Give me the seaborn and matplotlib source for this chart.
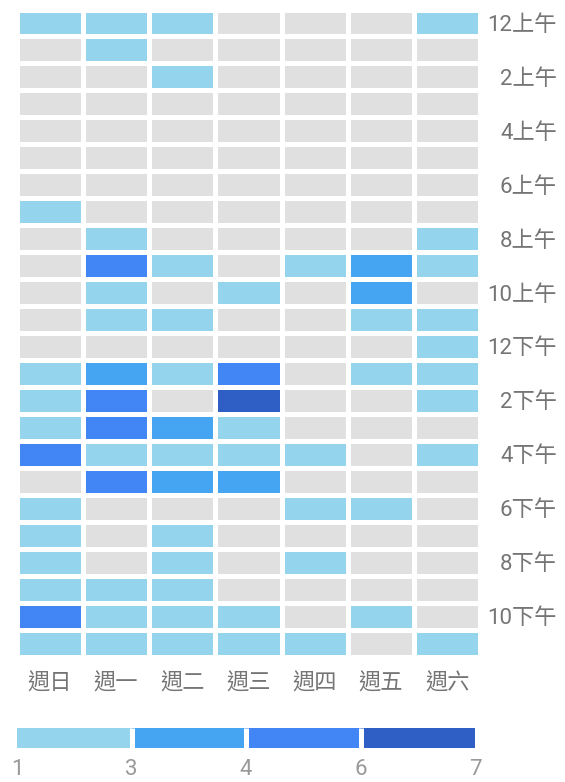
import numpy as np
import pandas as pd
import matplotlib
matplotlib.use("Agg")
import matplotlib.pyplot as plt
from matplotlib.colors import ListedColormap, BoundaryNorm
from matplotlib.cm import ScalarMappable
import seaborn as sns

# ========== DATA ==========
days = ["週日", "週一", "週二", "週三", "週四", "週五", "週六"]
hours = (["12上午"] + [f"{h}上午" for h in range(1, 12)]
         + ["12下午"] + [f"{h}下午" for h in range(1, 12)])

# counts per hour (rows) x weekday (cols)
counts = [
    [1, 1, 1, 0, 0, 0, 1],
    [0, 1, 0, 0, 0, 0, 0],
    [0, 0, 1, 0, 0, 0, 0],
    [0, 0, 0, 0, 0, 0, 0],
    [0, 0, 0, 0, 0, 0, 0],
    [0, 0, 0, 0, 0, 0, 0],
    [0, 0, 0, 0, 0, 0, 0],
    [1, 0, 0, 0, 0, 0, 0],
    [0, 1, 0, 0, 0, 0, 1],
    [0, 4, 1, 0, 1, 3, 1],
    [0, 1, 0, 1, 0, 3, 0],
    [0, 1, 1, 0, 0, 1, 1],
    [0, 0, 0, 0, 0, 0, 1],
    [1, 3, 1, 4, 0, 1, 1],
    [1, 4, 0, 7, 0, 0, 1],
    [1, 4, 3, 1, 0, 0, 0],
    [4, 1, 1, 1, 1, 0, 1],
    [0, 4, 3, 3, 0, 0, 0],
    [1, 0, 0, 0, 1, 1, 0],
    [1, 0, 1, 0, 0, 0, 0],
    [1, 0, 1, 0, 1, 0, 0],
    [1, 1, 1, 0, 0, 0, 0],
    [4, 1, 1, 1, 0, 1, 0],
    [1, 1, 1, 1, 1, 0, 1],
]

legend_bounds = [1, 3, 4, 6, 7]

# ========== STYLE ==========
GREY = "#e0e0e0"
BLUES = ["#94d4ec", "#45a5f2", "#4285f4", "#2f5ec4"]
TEXT = "#757575"

sns.set_theme(style="white")
plt.rcParams["font.family"] = ["Roboto", "Noto Sans CJK TC", "DejaVu Sans"]

df = pd.DataFrame(counts, index=hours, columns=days)

cmap = ListedColormap([GREY] + BLUES)
norm = BoundaryNorm([0, 1, 3, 4, 6, 8], cmap.N)

fig = plt.figure(figsize=(5.65, 7.82), dpi=100)
ax = fig.add_axes([16.5 / 565, 1 - 656.5 / 782, 464 / 565, 647 / 782])

sns.heatmap(df, ax=ax, cmap=cmap, norm=norm, cbar=False,
            linewidths=3.6, linecolor="white", yticklabels=2)

ax.yaxis.tick_right()
ax.tick_params(axis="y", length=0, pad=55, labelsize=16, colors=TEXT, rotation=0)
for lbl in ax.get_yticklabels():
    lbl.set_ha("right")
ax.tick_params(axis="x", length=0, pad=12, labelsize=16, colors=TEXT, rotation=0)
ax.set_xlabel("")
ax.set_ylabel("")

# ========== LEGEND (colour scale) ==========
cax = fig.add_axes([17 / 565, 1 - 748 / 782, 458 / 565, 20 / 782])
sm = ScalarMappable(norm=BoundaryNorm(legend_bounds, len(BLUES)),
                    cmap=ListedColormap(BLUES))
cbar = fig.colorbar(sm, cax=cax, orientation="horizontal",
                    ticks=legend_bounds, drawedges=True)
cbar.outline.set_visible(False)
cbar.dividers.set_color("white")
cbar.dividers.set_linewidth(3.6)
cax.tick_params(length=0, pad=8, labelsize=16, colors="#999999")

fig.savefig("out.png", dpi=100)
